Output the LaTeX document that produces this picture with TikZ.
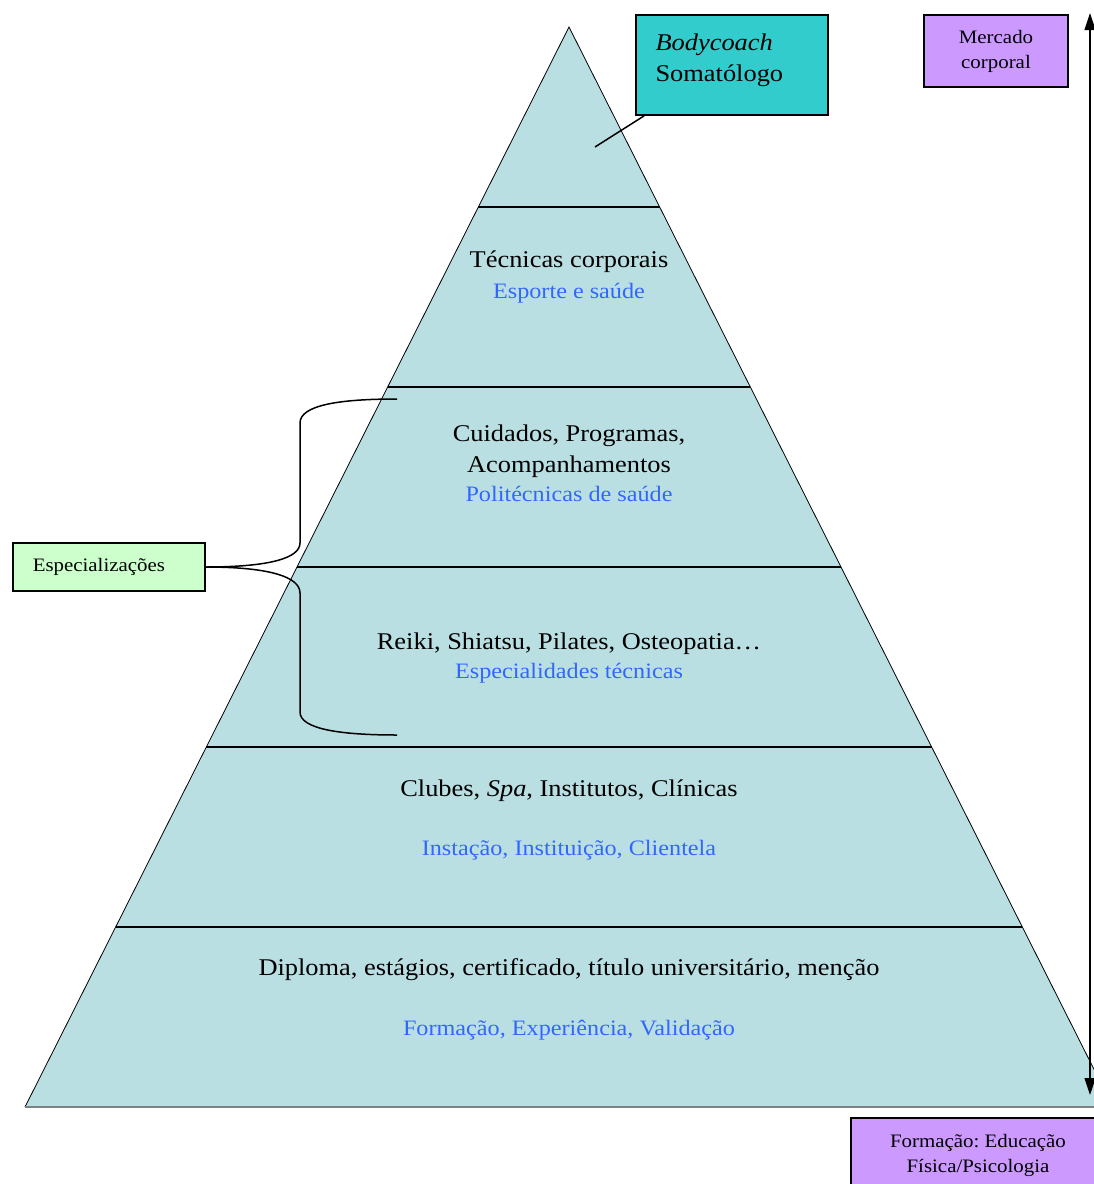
\documentclass[tikz,border=0pt]{standalone}
\usepackage{fontspec}
\setmainfont{Liberation Serif}[FakeStretch=1.1]
\usetikzlibrary{calc,arrows.meta}
\frenchspacing

\definecolor{pyrblue}{RGB}{186,223,227}
\definecolor{coachteal}{RGB}{51,204,204}
\definecolor{boxlilac}{RGB}{204,153,255}
\definecolor{boxgreen}{RGB}{204,255,204}
\definecolor{subblue}{RGB}{51,102,255}

\tikzset{
  maintext/.style={font=\fontsize{24}{31}\selectfont, align=center},
  subtext/.style={font=\fontsize{22}{26}\selectfont, text=subblue},
  sidebox/.style={draw, line width=1.5pt, font=\fontsize{19}{25}\selectfont, align=center},
  link/.style={line width=1.5pt},
}

\begin{document}
\begin{tikzpicture}[x=1pt, y=-1pt]
            \useasboundingbox (0,0) rectangle (1094,1184);
            \clip (0,0) rectangle (1094,1184);

            % Pyramid
            \coordinate (apex) at (569,27);
            \coordinate (base_left) at (25,1107);
            \coordinate (base_right) at (1113,1107);
            \fill[pyrblue] (apex) -- (base_left) -- (base_right) -- cycle;
            \draw[line width=0.8pt] (base_left) -- (apex) -- (base_right);
            \draw[line width=1.5pt, gray] (base_left) -- (base_right);
            \foreach \y in {207,387,567,747,927}{
                \pgfmathsetmacro{\f}{(\y-27)/1080}
                \draw[link] ($(apex)!\f!(base_left)$) -- ($(apex)!\f!(base_right)$);
            }

            % Nodes
            \node[maintext, anchor=base] (tecnicas) at (569,267) {Técnicas corporais};
            \node[subtext, anchor=base] (esporte) at (569,298) {Esporte e saúde};
            \node[maintext] (cuidados) at (569,451) {Cuidados, Programas,\\Acompanhamentos};
            \node[subtext, anchor=base] (politecnicas) at (569,501) {Politécnicas de saúde};
            \node[maintext, anchor=base] (reiki) at (569,649) {Reiki, Shiatsu, Pilates, Osteopatia…};
            \node[subtext, anchor=base] (especialidades) at (569,678) {Especialidades técnicas};
            \node[maintext, anchor=base] (clubes) at (569,796) {Clubes, \textit{Spa}, Institutos, Clínicas};
            \node[subtext, anchor=base] (instacao) at (569,855) {Instação, Instituição, Clientela};
            \node[maintext, anchor=base] (diploma) at (569,975) {Diploma, estágios, certificado, título universitário, menção};
            \node[subtext, anchor=base] (formacao_exp) at (569,1035) {Formação, Experiência, Validação};

            \node[sidebox, fill=coachteal, minimum width=192pt, minimum height=100pt] (bodycoach) at (732,65) {};
            \node[anchor=west, align=left, font=\fontsize{24}{31}\selectfont] (bodycoach_txt) at (652,60) {\textit{Bodycoach}\\Somatólogo};
            \node[sidebox, fill=boxlilac, minimum width=144pt, minimum height=72pt] (mercado) at (996,51) {Mercado\\corporal};
            \node[sidebox, fill=boxgreen, anchor=west, minimum height=48pt, text width=152pt, inner xsep=20pt, align=left] (especial) at (12,567) {Especializações};
            \node[sidebox, fill=boxlilac, minimum width=254pt, minimum height=74pt] (formacao) at (978,1155) {Formação: Educação\\Física/Psicologia};

            \coordinate (coach_tip) at (595,147);
            \coordinate (spec_top) at (397,399);
            \coordinate (spec_bot) at (397,735);
            \coordinate (mkt_top) at (1090,13);
            \coordinate (mkt_bot) at (1090,1095);

            % Arrows
            \draw[link] ([xshift=9pt]bodycoach.south west) -- (coach_tip);
            \draw[link] (especial.east) .. controls (270,567) and (300,558) .. (300,543) -- (300,423) .. controls (300,405) and (340,399) .. (spec_top);
            \draw[link] (especial.east) .. controls (270,567) and (300,577) .. (300,593) -- (300,712) .. controls (300,729) and (340,735) .. (spec_bot);
            \draw[line width=1.2pt, {Triangle[width=11pt,length=17pt]}-{Triangle[width=11pt,length=17pt]}] (mkt_bot) -- (mkt_top);
        \end{tikzpicture}
\end{document}
